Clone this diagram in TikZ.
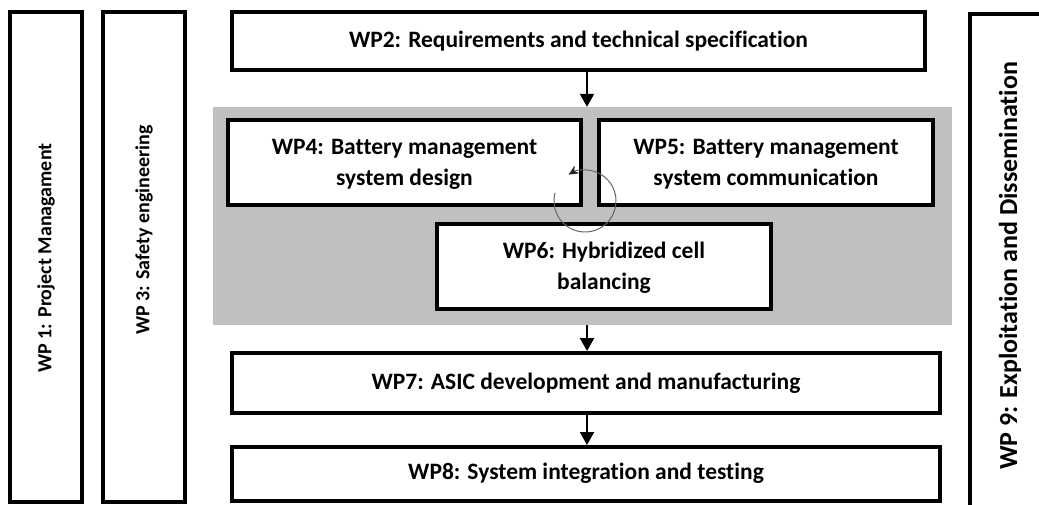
\documentclass[tikz,border=0pt]{standalone}
\usepackage{fontspec}
\setmainfont{Carlito}[Ligatures=NoCommon]
\usetikzlibrary{arrows.meta,calc}
\begin{document}
\begin{tikzpicture}[x=1pt,y=-1pt,
  box/.style={draw=black, line width=4pt, fill=white, inner sep=0pt, rectangle},
  lbl/.style={font=\fontsize{23.5}{31}\selectfont\bfseries, align=center, inner sep=0pt},
  vlbl/.style={align=center, inner sep=0pt, rotate=90},
  arr/.style={line width=2.2pt, -{Triangle[length=13pt,width=14pt]}},
  circ/.style={draw=black!60, line width=1pt, -{Stealth[length=10pt,width=9pt,color=black!85]}}
]
\useasboundingbox[fill=white] (0,0) rectangle (1039,505);
% side boxes
\node[box, minimum width=72, minimum height=490] (wp1) at (46,257) {};
\node[vlbl, font=\fontsize{20}{24}\selectfont\bfseries] (wp1t) at (46,258) {WP 1: Project Managament};
\node[box, minimum width=82, minimum height=490] (wp3) at (144,257) {};
\node[vlbl, font=\fontsize{20}{24}\selectfont\bfseries] (wp3t) at (144,230) {WP 3: Safety engineering};
\node[box, minimum width=100, minimum height=526] (wp9) at (1020,277) {};
\node[vlbl, font=\fontsize{26}{30}\selectfont\bfseries] (wp9t) at (1010,266) {WP 9: Exploitation and Dissemination};
% top
\node[box, minimum width=693, minimum height=58] (wp2) at (578.5,41) {};
\node[lbl] (wp2t) at (wp2.center) {WP2: Requirements and technical specification};
% grey region
\node[fill={rgb,255:red,192;green,192;blue,192}, inner sep=0pt, minimum width=739, minimum height=218] (grey) at (582.5,216) {};
\node[box, minimum width=353, minimum height=85] (wp4) at (404.5,162.5) {};
\node[lbl] (wp4t) at ($(wp4.center)+(0,2)$) {WP4: Battery management\\system design};
\node[box, minimum width=334, minimum height=85] (wp5) at (766,162.5) {};
\node[lbl] (wp5t) at ($(wp5.center)+(0,2)$) {WP5: Battery management\\system communication};
\node[box, minimum width=334, minimum height=85] (wp6) at (604,266.5) {};
\node[lbl] (wp6t) at ($(wp6.center)+(0,1)$) {WP6: Hybridized cell\\balancing};
% bottom
\node[box, minimum width=708, minimum height=60] (wp7) at (586,383) {};
\node[lbl] (wp7t) at (wp7.center) {WP7: ASIC development and manufacturing};
\node[box, minimum width=708, minimum height=54] (wp8) at (586,474) {};
\node[lbl] (wp8t) at (586,473) {WP8: System integration and testing};
% connectors
\coordinate (ax) at (587,0);
\draw[arr] (wp2.south -| ax) -- (grey.north -| ax);
\draw[arr] (grey.south -| ax) -- (wp7.north -| ax);
\draw[arr] (wp7.south -| ax) -- (wp8.north -| ax);
% cycle
\coordinate (cc) at (585,201);
\draw[circ] (cc) ++(-195:31pt) arc[start angle=-195, end angle=122, radius=31pt];
\end{tikzpicture}
\end{document}
